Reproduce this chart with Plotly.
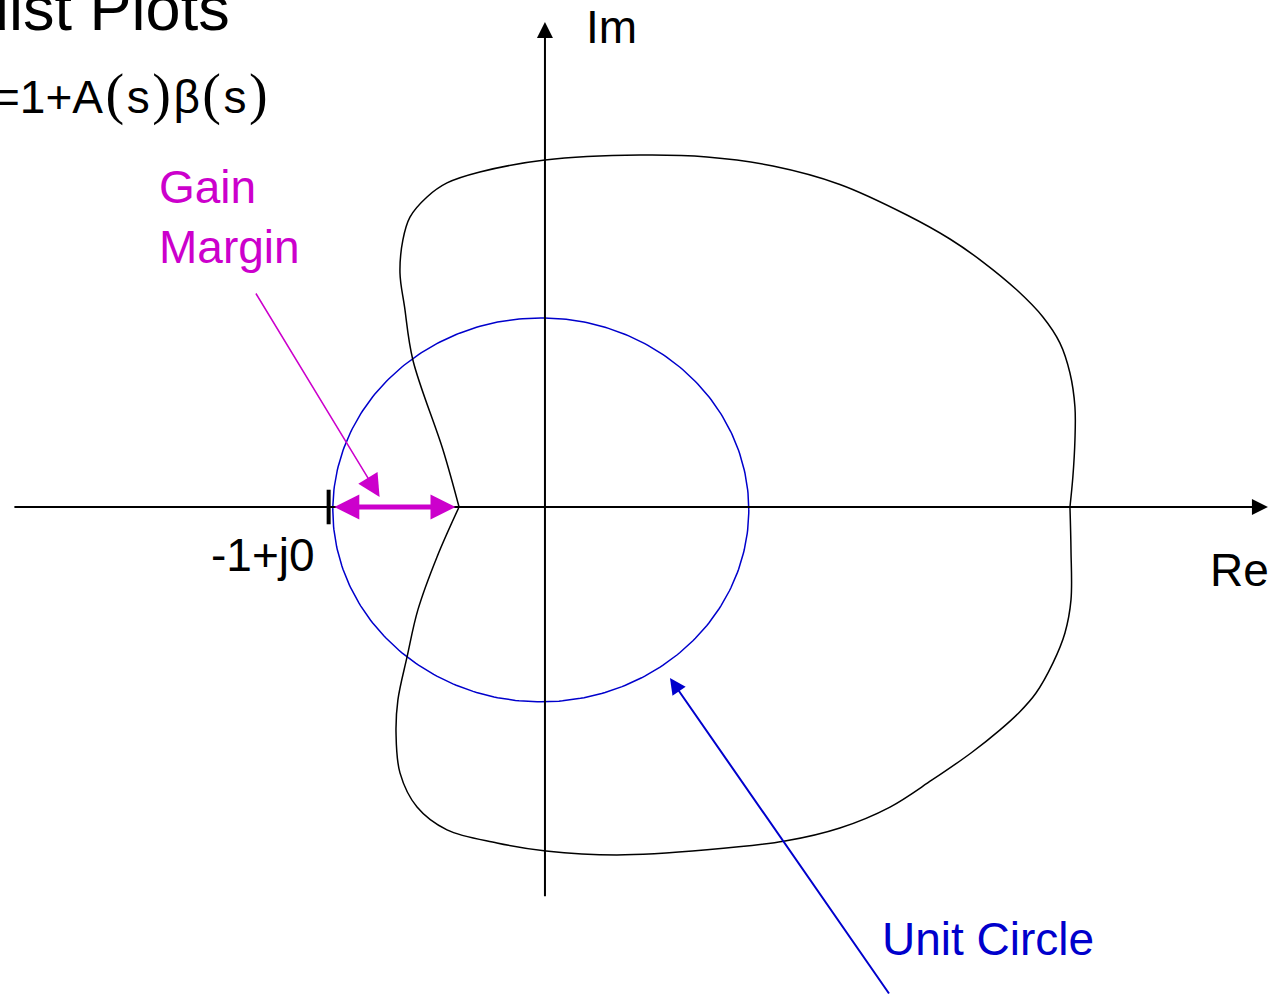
import numpy as np
import plotly.graph_objects as go

# Nyquist curve (Re, Im), both halves start at the -Re crossing
upper_re = [-0.413, -0.490, -0.635, -0.675, -0.697, -0.683, -0.649, -0.567, -0.471, -0.313, 0.0,
            0.457, 0.779, 1.096, 1.418, 1.740, 1.947, 2.106, 2.269, 2.394, 2.476, 2.524,
            2.548, 2.548, 2.538, 2.524]
upper_im = [0.0, 0.297, 0.766, 1.042, 1.219, 1.391, 1.510, 1.615, 1.688, 1.745, 1.807,
            1.833, 1.823, 1.776, 1.680, 1.521, 1.396, 1.276, 1.130, 0.990, 0.854, 0.698,
            0.521, 0.349, 0.156, 0.0]
lower_re = [-0.413, -0.519, -0.611, -0.663, -0.707, -0.716, -0.697, -0.615, -0.471, -0.231, 0.005,
            0.346, 0.779, 1.154, 1.418, 1.659, 1.861, 2.050, 2.188, 2.280, 2.360, 2.442, 2.500,
            2.529, 2.529, 2.524]
lower_im = [0.0, -0.260, -0.536, -0.781, -1.005, -1.177, -1.385, -1.563, -1.682, -1.750, -1.792,
            -1.813, -1.786, -1.740, -1.672, -1.563, -1.422, -1.280, -1.161, -1.070, -0.970, -0.813, -0.656,
            -0.484, -0.224, 0.0]

# unit circle
circle_center = (-0.02, -0.015)
circle_radius = 1.0

critical_re = -1.04               # the -1+j0 mark
gm_start, gm_end = -1.02, -0.43   # gain margin arrow ends

BLUE = '#0000CC'
MAGENTA = '#CC00CC'
FONT = 'Liberation Sans, Arial, sans-serif'

t = np.linspace(0, 2 * np.pi, 361)
fig = go.Figure()
fig.add_trace(go.Scatter(x=circle_center[0] + circle_radius * np.cos(t),
                         y=circle_center[1] + circle_radius * np.sin(t),
                         mode='lines', line=dict(color=BLUE, width=1.5)))
fig.add_trace(go.Scatter(x=upper_re, y=upper_im, mode='lines',
                         line=dict(color='black', width=1.5, shape='spline', smoothing=1.0)))
fig.add_trace(go.Scatter(x=lower_re, y=lower_im, mode='lines',
                         line=dict(color='black', width=1.5, shape='spline', smoothing=1.0)))
# tick at -1
fig.add_trace(go.Scatter(x=[critical_re, critical_re], y=[-0.09, 0.09], mode='lines',
                         line=dict(color='black', width=4)))

annotations = []
# Re axis
annotations.append(dict(x=3.476, y=0, ax=-2.558, ay=0, xref='x', yref='y', axref='x', ayref='y',
                        text='', showarrow=True, arrowhead=2, arrowsize=1.6, arrowwidth=2,
                        arrowcolor='black'))
# Im axis
annotations.append(dict(x=0, y=2.526, ax=0, ay=-2.036, xref='x', yref='y', axref='x', ayref='y',
                        text='', showarrow=True, arrowhead=2, arrowsize=1.6, arrowwidth=2,
                        arrowcolor='black'))
# gain margin double arrow
annotations.append(dict(x=gm_end, y=0, ax=gm_start, ay=0, xref='x', yref='y', axref='x', ayref='y',
                        text='', showarrow=True, arrowhead=2, startarrowhead=2, arrowside='end+start',
                        arrowsize=1.0, startarrowsize=1.0, arrowwidth=5, arrowcolor=MAGENTA))
# gain margin pointer
annotations.append(dict(x=-0.795, y=0.052, ax=-1.394, ay=1.120, xref='x', yref='y', axref='x', ayref='y',
                        text='', showarrow=True, arrowhead=2, arrowsize=3, arrowwidth=1.5,
                        arrowcolor=MAGENTA))
# unit circle pointer
annotations.append(dict(x=0.601, y=-0.891, ax=1.659, ay=-2.542, xref='x', yref='y', axref='x', ayref='y',
                        text='', showarrow=True, arrowhead=2, arrowsize=1.6, arrowwidth=2,
                        arrowcolor=BLUE))

def label(text, x, y, color='black', size=46, xanchor='left', yanchor='middle'):
    annotations.append(dict(x=x, y=y, xref='x', yref='y', text=text, showarrow=False,
                            xanchor=xanchor, yanchor=yanchor, align='left',
                            font=dict(family=FONT, size=size, color=color)))

label('Im', 0.19, 2.50)
label('Re', 3.19, -0.33)
label('-1+j0', -1.615, -0.25)
label('Gain<br>Margin', -1.865, 1.51, color=MAGENTA)
label('Unit Circle', 1.61, -2.25, color=BLUE)
label('Nyquist Plots', -1.505, 2.60, size=63, xanchor='right')
gap = '<span style="font-size:9px"> </span>'
paren = gap + '<span style="font-family:Liberation Serif, serif;font-size:56px">%s</span>' + gap
label('=1+A' + paren % '(' + 's' + paren % ')' + 'β' + paren % '(' + 's' + paren % ')',
      -1.31, 2.15, size=46, xanchor='right')

fig.update_layout(
    width=1269, height=995,
    margin=dict(l=0, r=0, t=0, b=0),
    paper_bgcolor='white', plot_bgcolor='white',
    showlegend=False,
    xaxis=dict(range=[-2.620, 3.481], visible=False),
    yaxis=dict(range=[-2.542, 2.641], visible=False),
    annotations=annotations,
)
fig.write_html('out.html', config={'displayModeBar': False},
               post_script="document.body.style.margin='0';")
